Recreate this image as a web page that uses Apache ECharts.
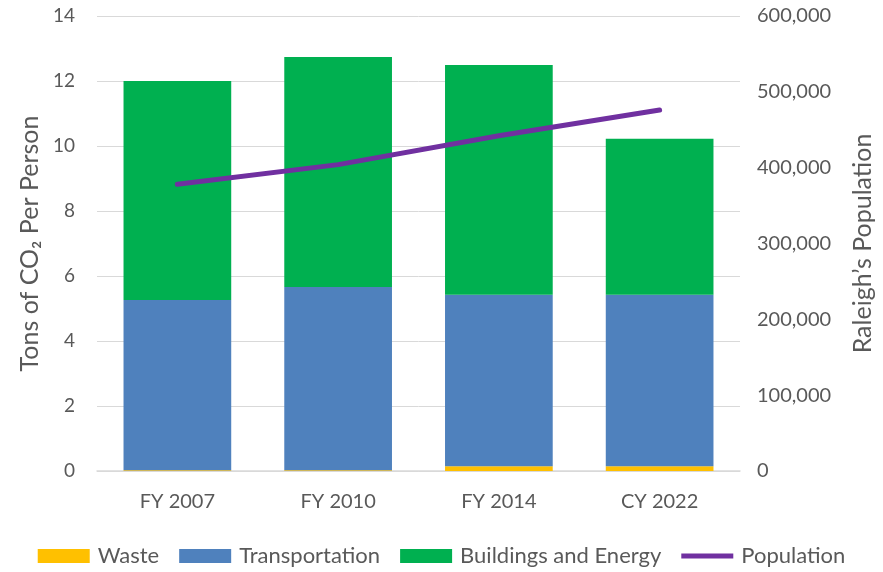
<!DOCTYPE html>
<html>
<head>
<meta charset="utf-8">
<script src="https://cdn.jsdelivr.net/npm/echarts@6/dist/echarts.min.js"></script>
<style>
	html, body { margin: 0; padding: 0; background: #fff; }
	#main { width: 883px; height: 572px; }
</style>
</head>
<body>
<div id="main"></div>
<script>
var categories = ['FY 2007', 'FY 2010', 'FY 2014', 'CY 2022'];
var waste = [0.02, 0.02, 0.15, 0.15];
var transportation = [5.24, 5.64, 5.27, 5.27];
var buildings = [6.74, 7.08, 7.07, 4.80];
var population = [378000, 404000, 442000, 476000];

var font = 'Lato';
var grey = '#595959';

createchart();

function createchart() {
	// 初始化echarts实例
	var myChart = echarts.init(document.getElementById('main'));
	var option = {
		textStyle: { fontFamily: font, color: grey },
		grid: { left: 97, right: 142, top: 16, bottom: 101 },
		legend: {
			bottom: 0,
			left: 'center',
			itemWidth: 52,
			itemHeight: 14,
			itemGap: 20,
			textStyle: { fontFamily: font, fontSize: 22, color: grey, padding: [0, 0, 0, 3] },
			data: [
				{ name: 'Waste', icon: 'rect' },
				{ name: 'Transportation', icon: 'rect' },
				{ name: 'Buildings and Energy', icon: 'rect' },
				{ name: 'Population', icon: 'path://M0,0h60v6h-60z' }
			]
		},
		xAxis: [{
			type: 'category',
			data: categories,
			axisTick: { show: false },
			axisLine: { lineStyle: { color: '#d9d9d9', width: 1.5 } },
			axisLabel: { fontSize: 20, color: grey, margin: 21 }
		}],
		yAxis: [{
			type: 'value',
			min: 0,
			max: 14,
			interval: 2,
			name: 'Tons of CO\u2082 Per Person',
			nameLocation: 'middle',
			nameGap: 55,
			nameTextStyle: { fontSize: 25, color: grey },
			axisLabel: { fontSize: 19, color: grey, margin: 22 },
			splitLine: { lineStyle: { color: '#d9d9d9', width: 1 } }
		}, {
			type: 'value',
			min: 0,
			max: 600000,
			interval: 100000,
			position: 'right',
			name: 'Raleigh\u2019s Population',
			nameLocation: 'middle',
			nameGap: 110,
			nameRotate: 90,
			nameTextStyle: { fontSize: 25, color: grey },
			splitLine: { show: false },
			axisLabel: {
				fontSize: 20,
				color: grey,
				margin: 17,
				formatter: function(v) { return v.toLocaleString('en-US'); }
			}
		}],
		series: [{
			name: 'Waste',
			type: 'bar',
			stack: 'co2',
			barWidth: '67%',
			itemStyle: { color: '#FFC000' },
			data: waste
		}, {
			name: 'Transportation',
			type: 'bar',
			stack: 'co2',
			itemStyle: { color: '#4F81BD' },
			data: transportation
		}, {
			name: 'Buildings and Energy',
			type: 'bar',
			stack: 'co2',
			itemStyle: { color: '#00B050' },
			data: buildings
		}, {
			name: 'Population',
			type: 'line',
			yAxisIndex: 1,
			symbol: 'none',
			lineStyle: { color: '#7030A0', width: 5, cap: 'round' },
			itemStyle: { color: '#7030A0' },
			data: population
		}]
	};
	myChart.setOption(option);
}
</script>
</body>
</html>
